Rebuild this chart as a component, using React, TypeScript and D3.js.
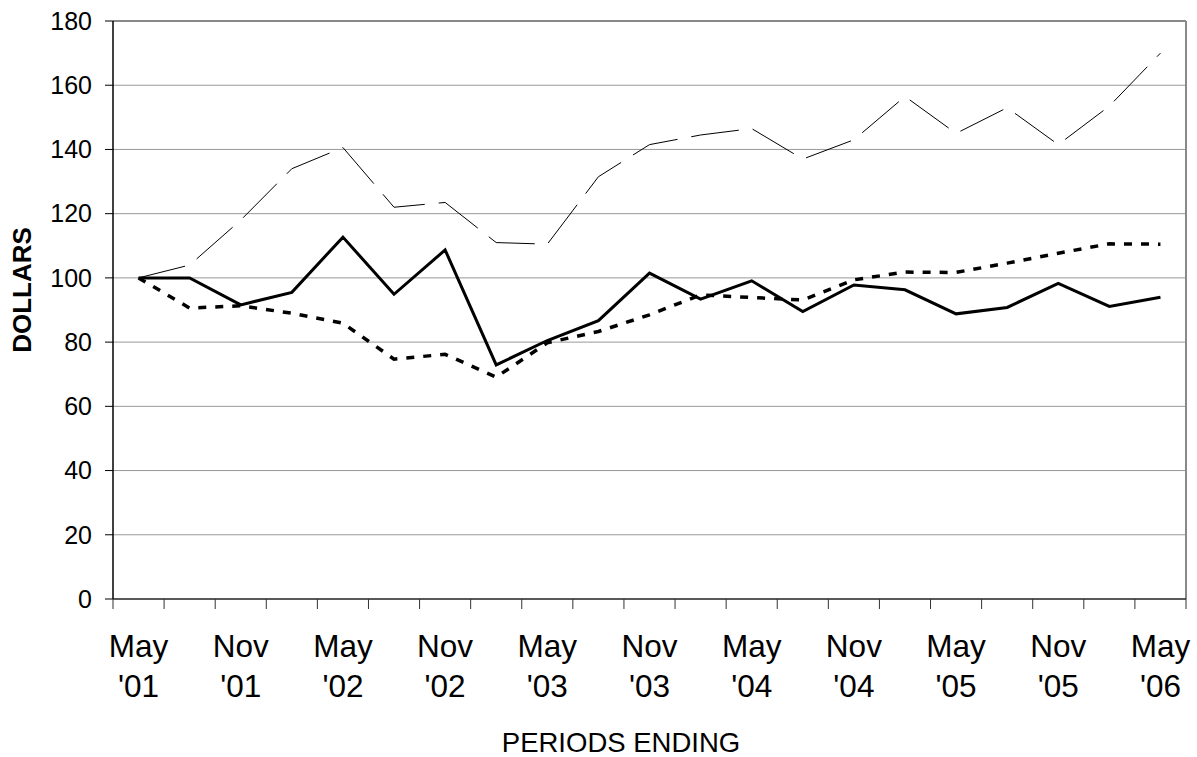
import React from 'react';
import * as d3 from 'd3';

const periods = [
  "May '01", "Aug '01", "Nov '01", "Feb '02", "May '02", "Aug '02", "Nov '02",
  "Feb '03", "May '03", "Aug '03", "Nov '03", "Feb '04", "May '04", "Aug '04",
  "Nov '04", "Feb '05", "May '05", "Aug '05", "Nov '05", "Feb '06", "May '06",
];

// solid bold line
const companyValues = [
  100, 100, 91.6, 95.5, 112.7, 94.9, 108.7, 72.9, 80.5, 86.7, 101.5, 93.4, 99.1,
  89.5, 97.8, 96.3, 88.8, 90.8, 98.3, 91.1, 94.0,
];

// bold dotted line
const indexValues = [
  100, 90.6, 91.3, 89.0, 85.9, 74.7, 76.2, 69.1, 79.8, 83.3, 88.5, 94.7, 93.9,
  93.1, 99.4, 101.8, 101.7, 104.6, 107.7, 110.6, 110.5,
];

// thin long-dash line
const peerValues = [
  100, 104, 118, 134, 140.6, 122, 123.5, 111, 110.5, 131.5, 141.5, 144.5, 146.5,
  137, 143, 156.5, 145, 153, 141.5, 153.5, 170,
];

const yTicks = [0, 20, 40, 60, 80, 100, 120, 140, 160, 180];

const W = 1197;
const H = 757;
const left = 113;
const right = 1186;
const top = 21;
const bottom = 599;
const font = '"Liberation Sans", Arial, sans-serif';

export default function App() {
  const x = d3
    .scaleBand<number>()
    .domain(d3.range(periods.length))
    .range([left, right])
    .paddingInner(0)
    .paddingOuter(0);
  const y = d3.scaleLinear().domain([0, 180]).range([bottom, top]);
  const cx = (i: number) => (x(i) as number) + x.bandwidth() / 2;

  const line = d3
    .line<number>()
    .x((_, i) => cx(i))
    .y((d) => y(d));

  const boundaries = d3.range(periods.length + 1).map((i) => left + i * x.bandwidth());

  return (
    <svg
      width={W}
      height={H}
      style={{ position: 'absolute', left: 0, top: 0, background: '#fff' }}
      fontFamily={font}
    >
      {/* grid */}
      {yTicks.slice(1).map((t) => (
        <line key={t} x1={left} x2={right} y1={y(t)} y2={y(t)} stroke="#999" strokeWidth={1} />
      ))}
      {/* border top/right */}
      <line x1={left} x2={right} y1={top} y2={top} stroke="#888" strokeWidth={2} />
      <line x1={right} x2={right} y1={top} y2={bottom} stroke="#888" strokeWidth={2} />

      {/* y axis */}
      <line x1={left} x2={left} y1={top} y2={bottom} stroke="#000" strokeWidth={1.5} />
      {yTicks.map((t) => (
        <g key={t}>
          <line x1={left - 8} x2={left} y1={y(t)} y2={y(t)} stroke="#000" strokeWidth={1} />
          <text x={92} y={y(t)} dy="0.35em" textAnchor="end" fontSize={25} fill="#000">
            {t}
          </text>
        </g>
      ))}

      {/* x axis */}
      <line x1={left} x2={right} y1={bottom} y2={bottom} stroke="#222" strokeWidth={1.5} />
      {boundaries.map((b, i) => (
        <line key={i} x1={b} x2={b} y1={bottom} y2={bottom + 10} stroke="#333" strokeWidth={1} />
      ))}
      {periods.map((p, i) =>
        i % 2 === 0 ? (
          <text key={p} x={cx(i)} textAnchor="middle" fontSize={31.5} fill="#000">
            <tspan x={cx(i)} y={657}>{p.split(' ')[0]}</tspan>
            <tspan x={cx(i)} y={697}>{p.split(' ')[1]}</tspan>
          </text>
        ) : null
      )}

      {/* series */}
      <path d={line(peerValues) || ''} fill="none" stroke="#000" strokeWidth={1} strokeDasharray="48,14" />
      <path d={line(indexValues) || ''} fill="none" stroke="#000" strokeWidth={3.5} strokeDasharray="8,9" />
      <path d={line(companyValues) || ''} fill="none" stroke="#000" strokeWidth={3} strokeLinejoin="miter" />

      {/* axis titles */}
      <text
        transform={`translate(31, 290) rotate(-90)`}
        textAnchor="middle"
        fontSize={26}
        fontWeight="bold"
        fill="#000"
      >
        DOLLARS
      </text>
      <text x={621} y={752} textAnchor="middle" fontSize={27.5} fill="#000">
        PERIODS ENDING
      </text>
    </svg>
  );
}
